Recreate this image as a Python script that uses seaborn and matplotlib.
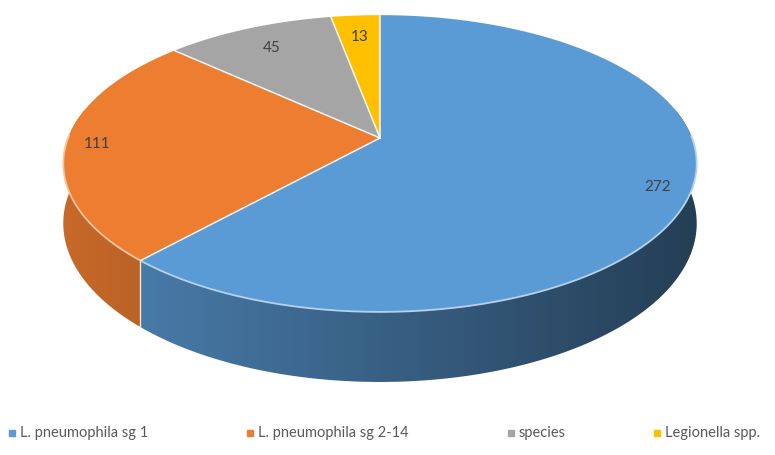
import numpy as np
import matplotlib
matplotlib.use("Agg")
import matplotlib.pyplot as plt
from matplotlib.patches import Polygon
from matplotlib.lines import Line2D
import matplotlib.colors as mcolors
import seaborn as sns

# ---- data ----
categories = ["L. pneumophila sg 1", "L. pneumophila sg 2-14", "species", "Legionella spp."]
values = [272, 111, 45, 13]
colors = ["#5B9BD5", "#ED7D31", "#A5A5A5", "#FFC000"]

sns.set_theme(style="white")
plt.rcParams['font.family'] = ['Lato', 'DejaVu Sans']

W, H = 775, 455
fig = plt.figure(figsize=(7.75, 4.55), dpi=100)
ax = fig.add_axes([0, 0, 1, 1])
ax.set_xlim(0, W)
ax.set_ylim(H, 0)
ax.axis('off')

# ---- 3D perspective geometry (layout) ----
CX, CY = 380, 138      # apex of the pie on screen
A, B, K = 144, 312, 0.172
D0 = 58


def proj(t, f=1.0):
    u = f * np.cos(t)
    v = f * np.sin(t)
    den = 1 + K * v
    return CX + B * u / den, CY - A * v / den


def depth(t):
    return D0 / (1 + K * np.sin(t))


total = float(sum(values))
bounds = []
start = 90.0
for val in values:
    span = val / total * 360.0
    bounds.append((start - span, start))
    start -= span

xmin, xmax = CX - B * 1.02, CX + B * 1.02
gx = np.linspace(xmin, xmax, 600)


def gradient_img(col):
    r, g, b = mcolors.to_rgb(col)
    f = 0.84 - 0.44 * (gx - xmin) / (xmax - xmin)
    img = np.stack([r * f, g * f, b * f], axis=-1)[None, :, :]
    return img


# ---- side walls (gradient, clipped) ----
for (lo, hi), col in zip(bounds, colors):
    ts = np.radians(np.linspace(lo, hi, 800))
    ts = ts[np.sin(ts) < 0.2]
    if len(ts) < 2:
        continue
    xt, yt = proj(ts)
    yb = yt + depth(ts)
    pts = list(zip(xt, yt)) + list(zip(xt[::-1], yb[::-1]))
    poly = Polygon(pts, closed=True, facecolor='none', edgecolor='none')
    ax.add_patch(poly)
    im = ax.imshow(gradient_img(col), extent=(xmin, xmax, yb.max() + 2, yt.min() - 2),
                   aspect='auto', interpolation='bilinear', zorder=1)
    im.set_clip_path(poly)

ax.set_xlim(0, W)
ax.set_ylim(H, 0)

# seams on the side
for (lo, hi) in bounds:
    t = np.radians(lo)
    if np.sin(t) < 0:
        x, y = proj(t)
        ax.plot([x, x], [y, y + depth(t)], color="#f3e6dc", lw=1.0,
                solid_capstyle='butt', zorder=2)

# ---- top surfaces ----
for (lo, hi), col in zip(bounds, colors):
    ts = np.radians(np.linspace(lo, hi, 300))
    xs, ys = proj(ts)
    pts = [(CX, CY)] + list(zip(xs, ys))
    ax.add_patch(Polygon(pts, closed=True, facecolor=col, edgecolor='none', zorder=3))

# front rim highlight
for (lo, hi), col in zip(bounds, colors):
    ts = np.radians(np.linspace(lo, hi, 300))
    m = np.sin(ts) < 0.02
    if m.any():
        xs, ys = proj(ts[m])
        r, g, b = mcolors.to_rgb(col)
        light = (r + (1 - r) * 0.55, g + (1 - g) * 0.55, b + (1 - b) * 0.55)
        ax.plot(xs, ys, color=light, lw=1.3, zorder=4)

# radial white separators
for (lo, hi) in bounds:
    t = np.radians(lo)
    x, y = proj(t)
    ax.plot([CX, x], [CY, y], color="white", lw=1.1, alpha=0.9, zorder=4)

# ---- data labels ----
for (lo, hi), val in zip(bounds, values):
    t = np.radians((lo + hi) / 2)
    f = 0.9 if val / total > 0.15 else 0.8
    x, y = proj(t, f)
    ax.text(x, y, str(val), ha='center', va='center', fontsize=11,
            color="#404040", zorder=5)

# ---- legend (one entry per category) ----
leg_x = [12, 250, 511, 657]
leg_y = 433
for lx, cat, col in zip(leg_x, categories, colors):
    ax.plot([lx], [leg_y], marker='s', markersize=5, color=col, linestyle='none',
            zorder=5, clip_on=False)
    ax.text(lx + 8, leg_y, cat, ha='left', va='center', fontsize=10.5,
            color="#595959", zorder=5)

fig.savefig("out.png", dpi=100)
